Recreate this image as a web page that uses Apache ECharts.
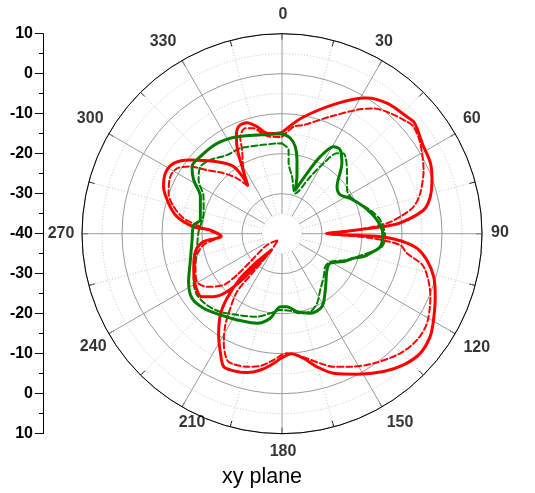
<!DOCTYPE html>
<html>
<head>
<meta charset="utf-8">
<script src="https://cdn.jsdelivr.net/npm/echarts@6/dist/echarts.min.js"></script>
<style>
  html, body { margin: 0; padding: 0; background: #fff; }
  #chart { width: 535px; height: 493px; }
</style>
</head>
<body>
<div id="chart"></div>
<script>
// Angular tick labels (degrees, clockwise from top)
const angleTicks = [0, 30, 60, 90, 120, 150, 180, 210, 240, 270, 300, 330];
// Labels of the side scale, top to bottom (dB)
const dbTicks = [10, 0, -10, -20, -30, -40, -30, -20, -10, 0, 10];

// Red, solid trace: angle (deg) and level (dB), in path order
const redSolidAngle = [0, 10, 23, 32, 39, 47, 50, 58, 64.5, 70, 76, 80.5, 84.8, 86, 88.3, 89.6,
  91.75, 92.4, 93.8, 96.2, 100.3, 105.8, 112.3, 119.7, 124.8, 130.9, 137.2, 143.6, 151.9, 159.7,
  165.3, 170.2, 175.5, 180, 183.7, 189, 194.1, 199.6, 203.7, 207.6, 212, 217.2, 220.4, 223.1,
  221.8, 213.3, 217.8, 220.7, 223.5, 227.4, 231.8, 239.4, 248.6, 258.3, 264.2, 267.4, 273,
  274.5, 279.2, 285, 291.6, 297.4, 303, 308.8, 317.9, 324.2, 325.2, 329.2, 332, 334.8, 337.9,
  342.5, 346.8, 351.5, 356, 360];
const redSolidDb = [-14.7, -10.5, -4.6, 0.0, 1.9, 2.8, 3.2, 1.6, 1.1, -0.1, -1.8, -4.1, -10.3, -14.6, -25.5, -28.8,
  -15.4, -12.9, -9.5, -6.0, -3.2, -0.6, 1.4, 3.6, 5.1, 5.7, 4.7, 2.8, -0.2, -2.8,
  -5.6, -8.4, -9.9, -9.0, -7.5, -5.5, -4.2, -3.65, -3.7, -6.7, -10.1, -14.5, -18.8, -24.7,
  -30.6, -35.1, -31.1, -25.3, -20.0, -16.75, -14.5, -14.8, -16.3, -17.9, -20.3, -24.8, -22.0,
  -17.8, -13.4, -10.65, -8.15, -7.15, -7.7, -10.6, -15.75, -19.3, -24.65, -20.5, -16.3, -13.2, -11.1,
  -10.9, -12.5, -14.6, -14.9, -14.7];

// Red, dashed trace
const redDashAngle = [0, 6.2, 11.2, 22.4, 31.2, 36.2, 42, 48.1, 50.9, 56.8, 65.8, 73.7, 78.4, 81.8,
  84.3, 87.5, 89.6, 92.7, 95.5, 98.9, 103.1, 113, 121.7, 128.2, 135.3, 144.75, 152.8, 158.8, 163.5,
  168.7, 173, 177.6, 183.8, 189.3, 194.7, 200.3, 203.5, 208, 211.8, 214.7, 217.8, 216.8, 213, 212,
  233, 228.5, 227.5, 228.7, 234.75, 240.5, 248.2, 256, 261.8, 266, 269, 271.5, 275.8, 278.9, 284,
  289.6, 297, 301.9, 306.2, 310.3, 316, 320.9, 324.6, 328.9, 334.5, 336.7, 340.8, 344.9, 348.7,
  353.1, 360];
const redDashDb = [-15.8, -13.1, -12.3, -8.35, -3.8, -1.2, 0.5, 1.95, 2.4, 1.3, -1.2, -4.0, -6.4, -10.1,
  -13.6, -22.0, -29.0, -18.0, -10.3, -8.4, -3.65, 0.3, 2.6, 2.95, 2.05, -0.3, -2.6, -4.3, -6.2,
  -8.2, -9.45, -10.1, -8.35, -6.5, -5.6, -5.2, -5.55, -9.0, -13.1, -17.3, -21.65, -28.15, -34.6, -38.1,
  -35.3, -29.4, -24.7, -20.6, -17.0, -15.6, -16.7, -18.1, -20.2, -23.7, -24.6, -22.5, -18.6, -15.1, -12.1,
  -9.9, -8.65, -9.1, -11.6, -15.4, -19.0, -22.15, -25.6, -21.4, -16.8, -13.6, -12.1, -12.7, -14.4,
  -15.6, -15.8];

// Green, solid trace
const greenSolidAngle = [0, 5, 8.7, 11.5, 14.7, 16.9, 22.5, 26.4, 30.7, 34.9, 40.4, 49.5, 56.4, 62.6,
  71.7, 81.8, 90, 97.5, 102.5, 105.7, 109, 114.4, 121.5, 128.9, 142.4, 151.3, 160.4, 169.1, 176.1,
  181.3, 187.9, 195.6, 207.5, 217.2, 226.4, 234.3, 242.8, 253, 264.9, 275.6, 279.5, 287.5, 294.4,
  301.3, 306.7, 313.3, 324.3, 335.1, 347.6, 360];
const greenSolidDb = [-15.0, -16.05, -18.0, -21.2, -25.3, -28.6, -23.65, -18.5, -14.7, -14.5, -16.9, -21.9, -22.5, -20.8,
  -18.5, -16.0, -14.8, -15.2, -17.4, -18.8, -21.1, -23.1, -25.85, -25.55, -22.25, -19.2, -18.9, -20.15, -21.7,
  -21.75, -18.65, -16.75, -15.7, -14.5, -12.95, -12.3, -13.75, -16.0, -17.4, -17.8, -19.3, -18.6, -17.6,
  -14.15, -11.95, -11.9, -12.2, -13.3, -14.7, -15.0];

// Green, dashed trace
const greenDashAngle = [0, 4.5, 5.4, 10, 18.2, 26.4, 30.6, 34.4, 37.5, 45.6, 56.1, 64.8, 75, 82.1, 91.7,
  97.4, 103, 112, 120.1, 127.3, 136, 145.8, 153.3, 160, 167, 174, 181.3, 188.4, 196.8, 209, 218.3,
  226.4, 234.2, 241.5, 252.1, 262.4, 271.4, 284.6, 295.3, 302.8, 309.4, 315.8, 325, 334, 346.25,
  356.8, 360];
const greenDashDb = [-17.4, -19.0, -22.3, -25.5, -29.4, -24.1, -19.55, -15.65, -14.7, -17.25, -20.4, -20.2, -17.15, -15.2, -14.2,
  -14.8, -18.2, -22.5, -26.0, -26.4, -25.0, -23.0, -20.5, -19.25, -19.6, -20.6, -20.9, -19.9, -18.3, -16.8, -15.1,
  -14.1, -13.8, -14.85, -17.2, -18.6, -19.15, -19.75, -18.3, -15.2, -13.6, -14.3, -16.0, -16.25, -17.2,
  -17.4, -17.4];

const FONT = '"Liberation Sans", Arial, sans-serif';
const CENTER = [282, 233.7];
const RED = '#ff0000';
const GREEN = '#007d00';
const LABEL_RING_DB = 14.5;   // radius used for the angle labels
// small per-label nudges (px) for the angle labels, same order as angleTicks
const angleLabelNudge = [[1, -1], [-7, -3], [1, -6], [0, -1], [6, 5], [9, 0],
  [1, 0], [19, 0], [0, 4], [-3, 0], [-3, -6], [-10, -3]];

const pairs = (db, ang) => db.map((d, i) => [d, ang[i]]);

function trace(name, db, ang, color, width, dashed) {
  return {
    name: name,
    type: 'line',
    coordinateSystem: 'polar',
    polarIndex: 0,
    data: pairs(db, ang),
    showSymbol: false,
    symbol: 'none',
    smooth: 0.3,
    clip: false,
    z: dashed ? 3 : 4,
    lineStyle: { color: color, width: width, type: dashed ? [6, 3] : 'solid', cap: 'round', join: 'round' },
    animation: false
  };
}

const chart = echarts.init(document.getElementById('chart'), null, { renderer: 'canvas' });

chart.setOption({
  backgroundColor: '#fff',
  animation: false,
  title: {
    text: 'xy plane',
    left: 217,
    top: 461,
    textStyle: { fontFamily: FONT, fontSize: 21.5, fontWeight: 'normal', color: '#000' }
  },
  // side dB scale
  grid: { left: 43, top: CENTER[1] - 200, width: 10, height: 400, containLabel: false },
  xAxis: { type: 'value', show: false, min: 0, max: 1 },
  yAxis: {
    type: 'value', min: -50, max: 50, interval: 10, position: 'left',
    axisLine: { show: true, lineStyle: { color: '#000', width: 1 } },
    axisTick: { show: true, length: 8, lineStyle: { color: '#000' } },
    minorTick: { show: true, splitNumber: 2, length: 4, lineStyle: { color: '#000' } },
    splitLine: { show: false },
    axisLabel: {
      margin: 10, color: '#000', fontFamily: FONT, fontSize: 16, fontWeight: 'bold',
      formatter: v => String(dbTicks[Math.round((50 - v) / 10)])
    }
  },
  polar: [
    { center: CENTER, radius: [0, 200] },
    { center: CENTER, radius: [20, 200] }
  ],
  angleAxis: [
    {
      polarIndex: 0, type: 'value', min: 0, max: 360, interval: 30, startAngle: 90, clockwise: true,
      axisLine: { show: true, lineStyle: { color: '#000', width: 1 } },
      axisTick: { show: true, inside: true, length: 6, lineStyle: { color: '#000' } },
      minorTick: { show: true, splitNumber: 2, length: 6, lineStyle: { color: '#000' } },
      axisLabel: { show: false },
      splitLine: { show: false },
      minorSplitLine: { show: false }
    },
    {
      polarIndex: 1, type: 'value', min: 0, max: 360, interval: 30, startAngle: 90, clockwise: true,
      axisLine: { show: false },
      axisTick: { show: false },
      minorTick: { show: false, splitNumber: 2 },
      axisLabel: { show: false },
      splitLine: { show: true, lineStyle: { color: '#9a9a9a', width: 1 } },
      minorSplitLine: { show: true, lineStyle: { color: '#c4c4c4', width: 1, type: [1, 2] } }
    }
  ],
  radiusAxis: [
    {
      polarIndex: 0, type: 'value', min: -40, max: 10, interval: 10,
      axisLine: { show: false }, axisTick: { show: false }, axisLabel: { show: false },
      splitLine: { show: true, lineStyle: { color: '#9a9a9a', width: 1 } },
      minorTick: { show: false, splitNumber: 2 },
      minorSplitLine: { show: true, lineStyle: { color: '#c4c4c4', width: 1, type: [1, 2] } }
    },
    {
      polarIndex: 1, type: 'value', min: -35, max: 10,
      axisLine: { show: false }, axisTick: { show: false }, axisLabel: { show: false },
      splitLine: { show: false }
    }
  ],
  series: [
    trace('red dashed', redDashDb, redDashAngle, RED, 2, true),
    trace('green dashed', greenDashDb, greenDashAngle, GREEN, 2, true),
    trace('red', redSolidDb, redSolidAngle, RED, 3, false),
    trace('green', greenSolidDb, greenSolidAngle, GREEN, 3, false),
    {
      name: 'angle labels',
      type: 'scatter',
      coordinateSystem: 'polar',
      polarIndex: 0,
      clip: false,
      symbolSize: 0,
      silent: true,
      data: angleTicks.map((a, i) => ({
        value: [LABEL_RING_DB, a],
        label: { offset: angleLabelNudge[i] }
      })),
      label: {
        show: true, position: 'inside', color: '#000',
        fontFamily: FONT, fontSize: 16, fontWeight: 'bold',
        formatter: p => String(p.value[1])
      },
      animation: false
    }
  ]
});
</script>
</body>
</html>
